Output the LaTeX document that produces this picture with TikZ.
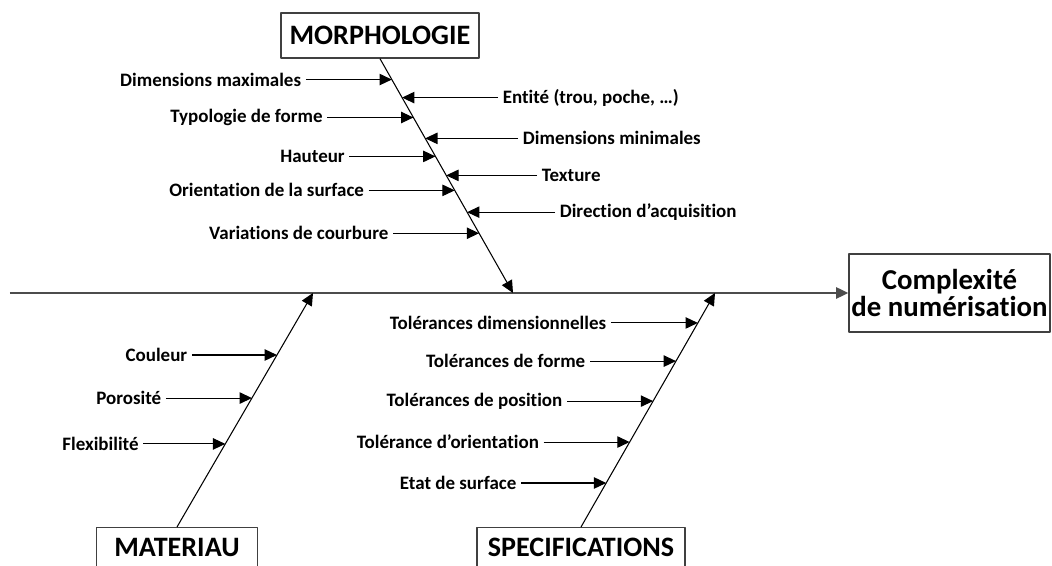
\documentclass[tikz,border=0pt]{standalone}
\usepackage{fontspec}
\setmainfont{Carlito}[Ligatures=NoCommon]
\usetikzlibrary{arrows.meta,calc,positioning}

\begin{document}
\begin{tikzpicture}[>={Triangle[length=7pt,width=6.5pt]},line join=round,
  lab/.style={font=\fontsize{10.8}{12}\selectfont\bfseries,inner sep=2.5pt},
  cat/.style={draw=black!75,line width=.8pt,font=\fontsize{16}{18}\selectfont\bfseries,inner sep=0pt},
  br/.style={->,line width=.6pt},
  spine/.style={->,line width=.6pt}]
\path[use as bounding box] (0,0) rectangle (21.04,11.32);
\fill[white] (0,0) rectangle (21.04,11.32);
\begin{scope}
\clip (0,0) rectangle (21.04,11.32);
% familles de causes et effet
\node[cat,minimum width=3.96cm,minimum height=.9cm] (morph) at (7.6,10.61) {MORPHOLOGIE};
\node[cat,minimum width=3.22cm,minimum height=.8cm,anchor=north] (mat) at (3.54,.78) {MATERIAU};
\node[cat,minimum width=4.16cm,minimum height=.8cm,anchor=north] (spec) at (11.62,.78) {SPECIFICATIONS};
\node[cat,minimum width=4.02cm,minimum height=1.56cm,align=center,
  font=\fontsize{16.4}{15.8}\selectfont\bfseries] (cplx) at (18.99,5.46) {Complexité\\de numérisation};
% arête principale
\coordinate (ax0) at (0.2,5.46);
\coordinate (mtip) at (10.26,5.46);
\coordinate (atip) at (6.26,5.46);
\coordinate (stip) at (14.3,5.46);
\draw[->,line width=1pt,black!70] (ax0) -- (cplx);
\draw[spine] (morph.south) -- (mtip);
\draw[spine] (mat.north) -- (atip);
\draw[spine] (spec.north) -- (stip);
% points d'attache sur les arêtes
\path (morph.south) -- (mtip)
  coordinate[pos=.089] (m1) coordinate[pos=.166] (m2) coordinate[pos=.251] (m3)
  coordinate[pos=.340] (m4) coordinate[pos=.417] (m5) coordinate[pos=.498] (m6)
  coordinate[pos=.562] (m7) coordinate[pos=.655] (m8) coordinate[pos=.745] (m9);
\path (mat.north) -- (atip)
  coordinate[pos=.735] (a1) coordinate[pos=.551] (a2) coordinate[pos=.355] (a3);
\path (spec.north) -- (stip)
  coordinate[pos=.872] (s1) coordinate[pos=.709] (s2) coordinate[pos=.538] (s3)
  coordinate[pos=.363] (s4) coordinate[pos=.188] (s5);
% morphologie
\node[lab,anchor=east] (dimmax) at ($(m1)+(-1.72,0)$) {Dimensions maximales};
\node[lab,anchor=west] (entite) at ($(m2)+(1.92,0)$) {Entité (trou, poche, …)};
\node[lab,anchor=east] (typo) at ($(m3)+(-1.72,0)$) {Typologie de forme};
\node[lab,anchor=west] (dimmin) at ($(m4)+(1.86,0)$) {Dimensions minimales};
\node[lab,anchor=east] (haut) at ($(m5)+(-1.72,0)$) {Hauteur};
\node[lab,anchor=west] (text) at ($(m6)+(1.82,0)$) {Texture};
\node[lab,anchor=east] (orient) at ($(m7)+(-1.72,0)$) {Orientation de la surface};
\node[lab,anchor=west] (dir) at ($(m8)+(1.76,0)$) {Direction d’acquisition};
\node[lab,anchor=east] (courb) at ($(m9)+(-1.72,0)$) {Variations de courbure};
% materiau
\node[lab,anchor=east] (coul) at ($(a1)+(-1.70,0)$) {Couleur};
\node[lab,anchor=east] (poro) at ($(a2)+(-1.72,0)$) {Porosité};
\node[lab,anchor=east] (flex) at ($(a3)+(-1.64,0)$) {Flexibilité};
% specifications
\node[lab,anchor=east] (toldim) at ($(s1)+(-1.74,0)$) {Tolérances dimensionnelles};
\node[lab,anchor=east] (tolfor) at ($(s2)+(-1.72,0)$) {Tolérances de forme};
\node[lab,anchor=east] (tolpos) at ($(s3)+(-1.72,0)$) {Tolérances de position};
\node[lab,anchor=east] (tolori) at ($(s4)+(-1.72,0)$) {Tolérance d’orientation};
\node[lab,anchor=east] (etat) at ($(s5)+(-1.70,0)$) {Etat de surface};
\foreach \a/\b in {dimmax/m1,entite/m2,typo/m3,dimmin/m4,haut/m5,text/m6,
  orient/m7,dir/m8,courb/m9,coul/a1,poro/a2,flex/a3,
  toldim/s1,tolfor/s2,tolpos/s3,tolori/s4,etat/s5}
  \draw[br] (\a) -- (\b);
\end{scope}
\end{tikzpicture}
\end{document}
